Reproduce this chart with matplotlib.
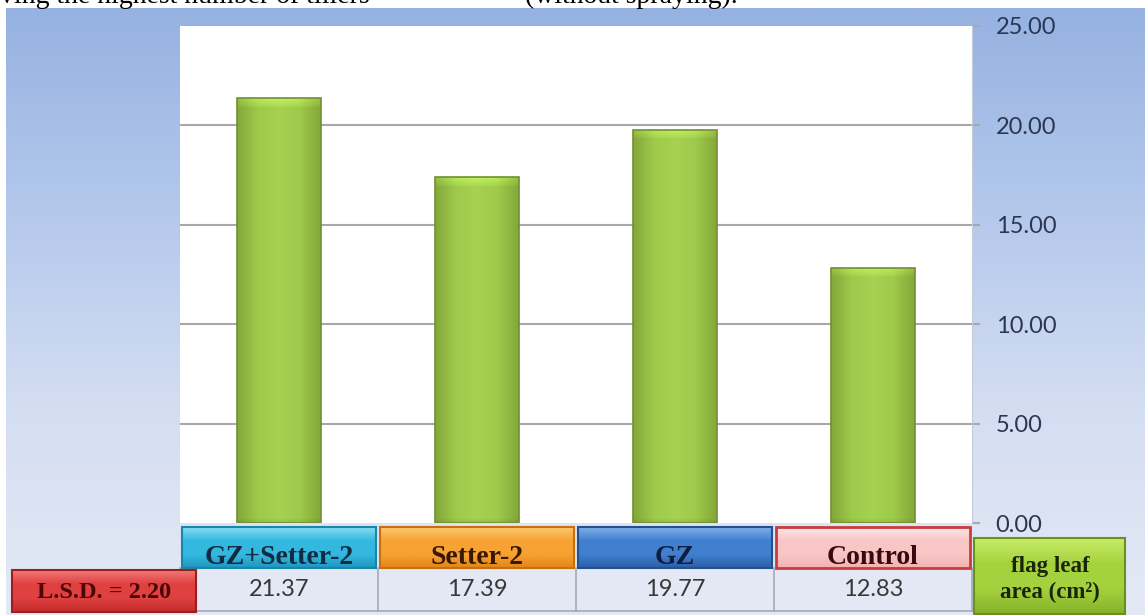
"""
Flag leaf area bar chart with an Excel-style data table underneath.
Saves out.png (1145x615).
"""

import matplotlib.pyplot as plt
import numpy as np
from matplotlib.colors import to_rgb
from matplotlib.patches import Rectangle

W, H = 1145, 615

# data
categories = ["GZ+Setter-2", "Setter-2", "GZ", "Control"]
flag_leaf_area = [21.37, 17.39, 19.77, 12.83]
value_labels = ["21.37", "17.39", "19.77", "12.83"]
yticks = [0, 5, 10, 15, 20, 25]
lsd_label = "L.S.D. = 2.20"
series_label = "flag leaf\narea (cm²)"
caption_left = "ving the highest number of tillers"
caption_right = "(without spraying)."

# header box styles (top, middle, bottom, edge, text)
_HEAD_STYLES = [
    ("#86def3", "#34b8df", "#1f97bf", "#1b86aa", "#0f2c44"),
    ("#fcc86e", "#f7a233", "#e2861a", "#c8700e", "#3a1800"),
    ("#7eaee8", "#4180cf", "#2c5ea6", "#24508e", "#0e1e3e"),
    ("#fde6e6", "#f9c6c6", "#f4b2b2", "#c83c3c", "#3a0810"),
]

# plot area in pixels
AX_L, AX_R, AX_T, AX_B = 180, 972, 26, 523
SLOT = (AX_R - AX_L) / len(categories)
SERIF = "Liberation Serif"
SANS = "Lato"


def _grad(colors, n=64):
    """Vertical gradient (n x 1 x 3) through the given colours."""
    stops = np.array([to_rgb(c) for c in colors])
    t = np.linspace(0, 1, n)
    pos = np.linspace(0, 1, len(stops))
    rgb = np.stack([np.interp(t, pos, stops[:, k]) for k in range(3)], axis=1)
    return rgb[:, None, :]


def _box(ax, x0, y0, x1, y1, top, mid, bot, edge, lw=1.5):
    ax.imshow(_grad([top, mid, mid, bot]), extent=(x0, x1, y1, y0),
              aspect="auto", interpolation="bilinear", zorder=3)
    ax.add_patch(Rectangle((x0, y0), x1 - x0, y1 - y0, fill=False,
                           edgecolor=edge, linewidth=lw, zorder=4))


fig = plt.figure(figsize=(W / 100, H / 100), dpi=100)
fig.patch.set_facecolor("white")

# blue gradient backdrop
bg = fig.add_axes([6 / W, 0, 1 - 6 / W, 1 - 8 / H], zorder=0)
bg.imshow(_grad(["#96b2e1", "#b4c8ec", "#d4def2", "#e4e9f5"], 256),
          extent=(0, 1, 0, 1), aspect="auto", interpolation="bilinear")
bg.set_axis_off()

# main plot
ax = fig.add_axes([AX_L / W, 1 - AX_B / H, (AX_R - AX_L) / W, (AX_B - AX_T) / H], zorder=1)
ax.set_facecolor("white")
x = np.arange(len(categories))
bars = ax.bar(x, flag_leaf_area, width=0.42, facecolor="none",
              edgecolor="#728f30", linewidth=1.2, zorder=4)
px_per_unit = (AX_B - AX_T) / (yticks[-1] - yticks[0])
for bar in bars:
    x0, w, h = bar.get_x(), bar.get_width(), bar.get_height()
    rows = max(int(h * px_per_unit), 2)
    across = _grad(["#85a83a", "#9ecb4b", "#a6d152", "#9ecb4b", "#85a83a"], 40)[:, 0, :]
    img = np.repeat(across[None, :, :], rows, axis=0)
    shade = np.ones(rows)
    shade[:9] = np.linspace(1.16, 1.04, 9)
    shade[-4:] = np.linspace(0.97, 0.92, 4)
    img = np.clip(img * shade[:, None, None], 0, 1)
    im = ax.imshow(img, extent=(x0, x0 + w, 0, h), aspect="auto",
                   interpolation="bilinear", zorder=3)
    im.set_clip_path(bar)

ax.set_xlim(-0.5, len(categories) - 0.5)
ax.set_ylim(yticks[0], yticks[-1])
ax.set_xticks([])
ax.yaxis.tick_right()
ax.set_yticks(yticks)
ax.yaxis.set_major_formatter("{x:.2f}")
ax.tick_params(axis="y", length=6, width=1.5, color="#a8a8a8", pad=11,
               labelsize=17, labelcolor="#2b3752")
for lab in ax.get_yticklabels():
    lab.set_family(SANS)
ax.grid(axis="y", color="#a8a8a8", linewidth=1.5, zorder=1)
grid = ax.yaxis.get_gridlines()
grid[0].set_visible(False)
grid[-1].set_visible(False)
for side in ("top", "left", "bottom"):
    ax.spines[side].set_visible(False)
ax.spines["right"].set_color("#c4ccd8")

# overlay in pixel coordinates for the data table
ov = fig.add_axes([0, 0, 1, 1], zorder=2)
ov.set_xlim(0, W)
ov.set_ylim(H, 0)
ov.set_axis_off()
ov.patch.set_alpha(0)

ov.add_patch(Rectangle((AX_L, 568), AX_R - AX_L, 43, facecolor="#e3e8f4",
                       edgecolor="none", zorder=1))
ov.plot([AX_L, AX_R], [611, 611], color="#a3abbb", lw=1.2, zorder=2)
for i in range(len(categories) + 1):
    xs = AX_L + i * SLOT
    ov.plot([xs, xs], [568, 611], color="#a3abbb", lw=1.2, zorder=2)

for i, (name, val) in enumerate(zip(categories, value_labels)):
    top, mid, bot, edge, tc = _HEAD_STYLES[i]
    x0 = AX_L + i * SLOT + 2
    x1 = AX_L + (i + 1) * SLOT - 2
    lw = 2.0 if name == "Control" else 1.5
    _box(ov, x0, 527, x1, 568, top, mid, bot, edge, lw)
    ov.text((x0 + x1) / 2, 557, name, ha="center", va="center", fontsize=20,
            fontweight="bold", family=SERIF, color=tc, zorder=5)
    ov.text(AX_L + (i + 0.5) * SLOT, 590, val, ha="center", va="center",
            fontsize=17, family=SANS, color="#383838", zorder=5)

_box(ov, 12, 570, 196, 612, "#f27878", "#e04040", "#c22c2c", "#9a2020")
ov.text(104, 592, lsd_label, ha="center", va="center", fontsize=17.5,
        fontweight="bold", family=SERIF, color="#4a0808", zorder=5)

_box(ov, 974, 538, 1125, 614, "#c8ec66", "#a4d23e", "#86b22a", "#6a9020")
ov.text(1050, 580, series_label, ha="center", va="center", fontsize=16.5,
        fontweight="bold", family=SERIF, color="#1a2408", linespacing=1.3, zorder=5)

# clipped caption from the page above
fig.text(0.0, 1 - 3 / H, caption_left, ha="left", va="baseline", fontsize=20,
         family=SERIF, color="black")
fig.text(525 / W, 1 - 3 / H, caption_right, ha="left", va="baseline", fontsize=20,
         family=SERIF, color="black")

fig.savefig("out.png", dpi=100)
